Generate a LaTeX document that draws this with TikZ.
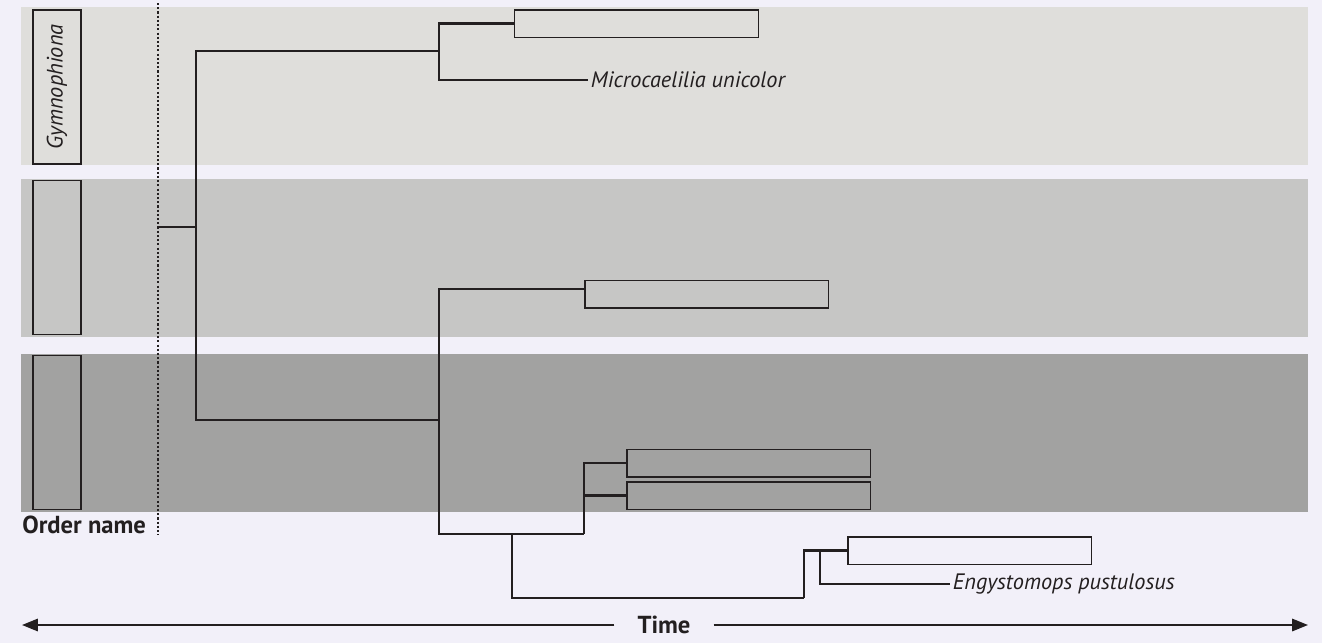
\documentclass[tikz,border=0pt]{standalone}
\usepackage{fontspec}
\setmainfont{PT Sans}
\usetikzlibrary{arrows.meta}
\definecolor{bgcol}{HTML}{F2F0F9}
\definecolor{bandA}{HTML}{DFDEDB}
\definecolor{bandB}{HTML}{C6C6C5}
\definecolor{bandC}{HTML}{A2A2A1}
\definecolor{ink}{HTML}{231F20}
\tikzset{
  clade/.style={draw=ink, line width=0.85pt, rectangle, minimum width=4.88cm, minimum height=0.55cm, anchor=west, inner sep=0pt},
  orderbox/.style={draw=ink, line width=0.8pt, rectangle, minimum width=0.96cm, minimum height=3.08cm, inner sep=0pt},
  branch/.style={draw=ink, line width=1.15pt},
  taxon/.style={font=\fontsize{12.7}{15}\selectfont\itshape, text=ink, anchor=west, inner sep=1.5pt},
  heading/.style={font=\fontsize{14}{16}\selectfont\bfseries, text=ink, inner sep=0pt},
}
\begin{document}
\begin{tikzpicture}[x=0.02cm, y=-0.02cm]
\fill[bgcol] (0,0) rectangle (1322,643);
\useasboundingbox (0,0) rectangle (1322,643);
% order bands
\fill[bandA] (21,7) rectangle (1308,165);
\fill[bandB] (21,179) rectangle (1308,337);
\fill[bandC] (21,354) rectangle (1308,512);
\node[orderbox] (o1) at (57,87) {};
\node[orderbox] (o2) at (57,257.5) {};
\node[orderbox] (o3) at (57,432.5) {};
\node[taxon, anchor=center, rotate=90] (gym) at (o1.center) {Gymnophiona};
\node[heading, anchor=base west] (ordname) at (22,533) {Order name};
\draw[ink, line width=0.9pt, dash pattern=on 1.2pt off 1.2pt] (158,3) -- (158,535);
% clades and taxa
\node[clade] (c1) at (514,23.5) {};
\node[taxon] (mu) at (588,80) {Microcaelilia unicolor};
\node[clade] (c2) at (584,294) {};
\node[clade] (c3) at (626,463) {};
\node[clade] (c4) at (626,495.5) {};
\node[clade] (c5) at (847,550.5) {};
\node[taxon] (ep) at (950,584) {Engystomops pustulosus};
% tree
\coordinate (root) at (158,227);
\coordinate (a) at (196,227);
\coordinate (b) at (439,51);
\coordinate (d) at (439,420);
\coordinate (f) at (512,534);
\coordinate (g) at (584,534);
\coordinate (h) at (804,598);
\coordinate (k) at (820,550.5);
\draw[branch] (root) -- (a);
\draw[branch] (a) |- (b);
\draw[branch] (a) |- (d);
\draw[branch] (b) |- (c1.west);
\draw[branch] (b) |- (mu.west);
\draw[branch] (d) |- ([yshift=0.1cm]c2.west);
\draw[branch] (d) |- (f) -- (g);
\draw[branch] (g) |- (c3.west);
\draw[branch] (g) |- (c4.west);
\draw[branch] (f) |- (h);
\draw[branch] (h) |- (c5.west);
\draw[branch] (k) |- (ep.west);
% time axis
\node[heading] (time) at (664,625) {Time};
\coordinate (tl) at (22,625);
\coordinate (tr) at (1308,625);
\draw[branch, -{Triangle[length=9pt, width=7pt]}] ([xshift=-13pt]time.west) -- (tl);
\draw[branch, -{Triangle[length=9pt, width=7pt]}] ([xshift=13pt]time.east) -- (tr);
\end{tikzpicture}
\end{document}
